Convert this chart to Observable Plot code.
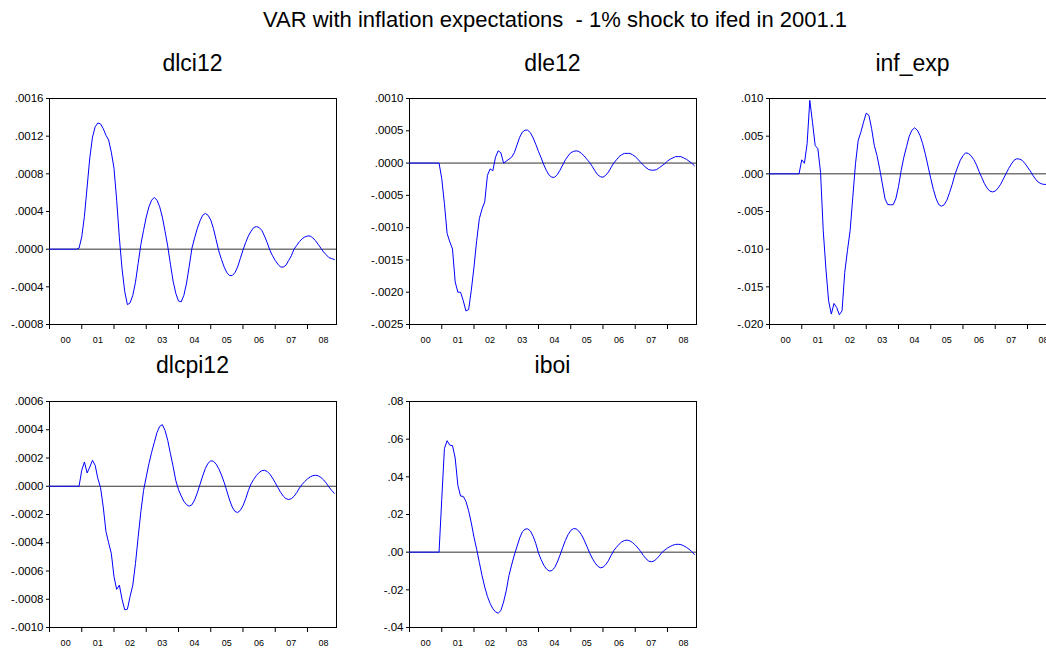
<!DOCTYPE html>
<html>
<head>
<meta charset="utf-8">
<script src="https://cdn.jsdelivr.net/npm/d3@7"></script>
<script src="https://cdn.jsdelivr.net/npm/@observablehq/plot@0.6"></script>
<style>
  html, body { margin: 0; padding: 0; background: #fff; overflow: hidden; }
  #chart {
    position: relative; width: 1046px; height: 648px; overflow: hidden;
    background: #fff; color: #000;
    font-family: "Liberation Sans", Arial, sans-serif;
  }
  .title { position: absolute; white-space: pre; transform: translateX(-50%); line-height: 1; }
  .panel { position: absolute; }
  .panel svg { max-width: none !important; display: block; }
</style>
</head>
<body>
<div id="chart"></div>
<script>
// Impulse responses, monthly from 2000.01 (index 0) to 2008.11 (index 106)
const chartTitle = "VAR with inflation expectations  - 1% shock to ifed in 2001.1";
const seriesNames = ["dlci12", "dle12", "inf_exp", "dlcpi12", "iboi"];

const yearStarts = [0, 12, 24, 36, 48, 60, 72, 84, 96];
const yearMids = [6, 18, 30, 42, 54, 66, 78, 90, 102];
const yearLabels = ["00", "01", "02", "03", "04", "05", "06", "07", "08"];

const dlci12 = [
  0, 0, 0, 0, 0, 0, 0, 0, 0, 0, 0, 0.00001,
  0.00013, 0.00035, 0.00066, 0.00097, 0.00119, 0.00130, 0.00134, 0.00133, 0.00128, 0.00121, 0.00116, 0.00103,
  0.00086, 0.00052, 0.00012, -0.00021, -0.00045, -0.00059, -0.00057, -0.00049, -0.00035, -0.00015, 0.00005, 0.00020,
  0.00034, 0.00045, 0.00052, 0.00055, 0.00052, 0.00045, 0.00034, 0.00019, 0.00003, -0.00016, -0.00034, -0.00047,
  -0.00055, -0.00056, -0.00049, -0.00036, -0.00018, 0.00001, 0.00012, 0.00022, 0.00030, 0.00036, 0.00038, 0.00036,
  0.00031, 0.00022, 0.00010, -0.00002, -0.00011, -0.00019, -0.00025, -0.00028, -0.00028, -0.00025, -0.00019, -0.00010,
  -0.00001, 0.00007, 0.00014, 0.00019, 0.00023, 0.00024, 0.00023, 0.00020, 0.00014, 0.00007, -0.00001, -0.00007,
  -0.00012, -0.00016, -0.00019, -0.00019, -0.00017, -0.00012, -0.00007, 0.00000, 0.00004, 0.00008, 0.00011, 0.00013,
  0.00014, 0.00014, 0.00012, 0.00009, 0.00005, 0.00001, -0.00003, -0.00006, -0.00009, -0.00010, -0.00011
];

const dle12 = [
  0, 0, 0, 0, 0, 0, 0, 0, 0, 0, 0, 0,
  -0.00024, -0.00063, -0.00109, -0.00122, -0.00133, -0.00184, -0.00200, -0.00200, -0.00213, -0.00229, -0.00227, -0.00197,
  -0.00161, -0.00120, -0.00086, -0.00071, -0.00060, -0.00019, -0.00009, -0.00012, 0.00009, 0.00019, 0.00016, 0.00000,
  0.00003, 0.00006, 0.00009, 0.00016, 0.00028, 0.00040, 0.00048, 0.00051, 0.00051, 0.00047, 0.00039, 0.00029,
  0.00018, 0.00008, -0.00003, -0.00012, -0.00019, -0.00022, -0.00022, -0.00018, -0.00011, -0.00003, 0.00005, 0.00011,
  0.00016, 0.00018, 0.00019, 0.00018, 0.00015, 0.00011, 0.00006, 0.00001, -0.00005, -0.00012, -0.00018, -0.00021,
  -0.00022, -0.00019, -0.00014, -0.00007, 0.00000, 0.00005, 0.00010, 0.00013, 0.00015, 0.00015, 0.00015, 0.00013,
  0.00010, 0.00006, 0.00001, -0.00003, -0.00007, -0.00010, -0.00011, -0.00011, -0.00010, -0.00007, -0.00004, -0.00001,
  0.00003, 0.00006, 0.00008, 0.00010, 0.00010, 0.00010, 0.00008, 0.00006, 0.00003, 0.00000, -0.00004
];

const infExp = [
  0, 0, 0, 0, 0, 0, 0, 0, 0, 0, 0, 0,
  0.00186, 0.0014, 0.0040, 0.00975, 0.00686, 0.00376, 0.00333, 0.0002, -0.00754, -0.01264, -0.01686, -0.01862,
  -0.01721, -0.01774, -0.01871, -0.01818, -0.01309, -0.0102, -0.00754, -0.00311, 0.00133, 0.00443, 0.00553, 0.00686,
  0.00806, 0.00775, 0.0060, 0.00376, 0.00243, 0.00066, -0.00133, -0.00333, -0.00408, -0.0041, -0.0041, -0.00333,
  -0.00169, 0.00044, 0.00221, 0.0036, 0.0050, 0.0058, 0.0061, 0.0058, 0.0051, 0.0040, 0.0026, 0.0010,
  -0.0006, -0.0021, -0.0033, -0.0041, -0.0043, -0.0041, -0.0035, -0.0025, -0.0014, -0.0001, 0.0009, 0.0018,
  0.0024, 0.0028, 0.0027, 0.0024, 0.0019, 0.0012, 0.0003, -0.0005, -0.0013, -0.0019, -0.0023, -0.0024,
  -0.0023, -0.0019, -0.0014, -0.0007, 0.0000, 0.0007, 0.0013, 0.0018, 0.0020, 0.00196, 0.0018, 0.0014,
  0.0009, 0.0004, -0.0002, -0.0007, -0.0011, -0.0013, -0.0014, -0.0014, -0.0013, -0.0010, -0.0007
];

const dlcpi12 = [
  0, 0, 0, 0, 0, 0, 0, 0, 0, 0, 0, 0,
  0.000113, 0.000172, 0.000094, 0.000136, 0.000184, 0.000148, 0.000054, -0.00001, -0.000146, -0.00032, -0.0004, -0.000475,
  -0.00064, -0.00073, -0.0007, -0.0008, -0.000875, -0.00087, -0.00078, -0.0007, -0.000546, -0.000358, -0.00018, -0.00003,
  0.000066, 0.00016, 0.00024, 0.00031, 0.00038, 0.000424, 0.000436, 0.000395, 0.000325, 0.00023, 0.00014, 0.00004,
  -0.000024, -0.000069, -0.000106, -0.000131, -0.000141, -0.000131, -0.000097, -0.000047, 0.000013, 0.000073, 0.000126, 0.000163,
  0.00018, 0.000177, 0.000157, 0.000124, 0.000079, 0.000027, -0.000034, -0.000097, -0.000147, -0.000178, -0.000186, -0.000171,
  -0.000138, -0.000089, -0.000031, 0.000017, 0.000049, 0.000076, 0.000097, 0.00011, 0.000113, 0.000105, 0.000086, 0.000058,
  0.000025, -0.00001, -0.000043, -0.00007, -0.000088, -0.000094, -0.000088, -0.000071, -0.000045, -0.000013, 0.000013, 0.000034,
  0.000052, 0.000066, 0.000075, 0.000078, 0.000074, 0.000062, 0.000045, 0.000022, -0.000005, -0.00003, -0.00005
];

const iboi = [
  0, 0, 0, 0, 0, 0, 0, 0, 0, 0, 0, 0,
  0.028, 0.055, 0.0592, 0.0568, 0.0566, 0.050, 0.0355, 0.0298, 0.0296, 0.027, 0.022, 0.0155,
  0.008, 0.0015, -0.0055, -0.0125, -0.0185, -0.0235, -0.0272, -0.0300, -0.0317, -0.0324, -0.0310, -0.0265,
  -0.0205, -0.0125, -0.0068, -0.0015, 0.003, 0.0075, 0.0108, 0.0122, 0.0124, 0.0112, 0.0085, 0.0046,
  -0.0005, -0.0040, -0.007, -0.009, -0.010, -0.0098, -0.0082, -0.0053, -0.0016, 0.0024, 0.0062, 0.0093,
  0.0115, 0.0125, 0.0124, 0.0112, 0.0092, 0.0064, 0.0031, -0.0003, -0.0032, -0.0056, -0.0074, -0.0083,
  -0.008, -0.0067, -0.0046, -0.0018, 0.0008, 0.0026, 0.0042, 0.0055, 0.0062, 0.0064, 0.006, 0.0051,
  0.0038, 0.0022, 0.0004, -0.0017, -0.0035, -0.0047, -0.0051, -0.0047, -0.0035, -0.0019, 0.0, 0.0011,
  0.0022, 0.003, 0.0037, 0.0041, 0.0042, 0.004, 0.0034, 0.0026, 0.0016, 0.0004, -0.0012
];

// y-axis tick values for each panel
const dlci12Ticks = [-0.0008, -0.0004, 0, 0.0004, 0.0008, 0.0012, 0.0016];
const dle12Ticks = [-0.0025, -0.002, -0.0015, -0.001, -0.0005, 0, 0.0005, 0.001];
const infExpTicks = [-0.02, -0.015, -0.01, -0.005, 0, 0.005, 0.01];
const dlcpi12Ticks = [-0.001, -0.0008, -0.0006, -0.0004, -0.0002, 0, 0.0002, 0.0004, 0.0006];
const iboiTicks = [-0.04, -0.02, 0, 0.02, 0.04, 0.06, 0.08];

// Panel grid: 3 columns x 2 rows
const panels = [
  {name: seriesNames[0], values: dlci12, ticks: dlci12Ticks, decimals: 4, col: 0, row: 0},
  {name: seriesNames[1], values: dle12, ticks: dle12Ticks, decimals: 4, col: 1, row: 0},
  {name: seriesNames[2], values: infExp, ticks: infExpTicks, decimals: 3, col: 2, row: 0},
  {name: seriesNames[3], values: dlcpi12, ticks: dlcpi12Ticks, decimals: 4, col: 0, row: 1},
  {name: seriesNames[4], values: iboi, ticks: iboiTicks, decimals: 2, col: 1, row: 1}
];

const colLeft = [49, 409, 769];     // left edge of each plot frame
const rowTop = [98, 401];           // top edge of each plot frame
const rowTitleBaseline = [71, 373.5];
const frameW = 287, frameH = 226;
const mL = 50, mR = 6, mT = 6, mB = 26;
const xDomain = [0, 106.8];

const chart = document.getElementById("chart");

const title = document.createElement("div");
title.className = "title";
title.textContent = chartTitle;
title.style.fontSize = "22px";
title.style.left = "555px";
title.style.top = (28 - 18.6) + "px";
chart.appendChild(title);

const fmtTick = (dec) => (v) => v.toFixed(dec).replace("0.", ".");

for (const p of panels) {
  const rows = p.values.map((v, i) => ({month: i, value: v}));
  const left = colLeft[p.col], top = rowTop[p.row];

  const head = document.createElement("div");
  head.className = "title";
  head.textContent = p.name;
  head.style.fontSize = "23px";
  head.style.left = (left + frameW / 2) + "px";
  head.style.top = (rowTitleBaseline[p.row] - 19.5) + "px";
  chart.appendChild(head);

  const w = mL + frameW + mR, h = mT + frameH + mB;
  const svg = Plot.plot({
    width: w,
    height: h,
    marginLeft: mL, marginRight: mR, marginTop: mT, marginBottom: mB,
    style: {background: "transparent", color: "#000", fontFamily: "'Liberation Sans', Arial, sans-serif", fontSize: "11px", overflow: "visible", maxWidth: "none"},
    x: {domain: xDomain, label: null},
    y: {domain: [p.ticks[0], p.ticks[p.ticks.length - 1]], label: null},
    marks: [
      Plot.frame({stroke: "#000"}),
      Plot.ruleY([0], {stroke: "#333"}),
      Plot.axisY({ticks: p.ticks, tickSize: 3, tickPadding: 3, tickFormat: fmtTick(p.decimals), fontSize: 11.5, label: null}),
      Plot.axisX({ticks: yearStarts, tickSize: 5, tickFormat: () => "", label: null}),
      Plot.axisX({ticks: yearMids, tickSize: 0, tickPadding: 12, tickFormat: (d) => yearLabels[yearMids.indexOf(d)], fontSize: 9, label: null}),
      Plot.line(rows, {x: "month", y: "value", stroke: "#0000ff", strokeWidth: 1})
    ]
  });
  const holder = document.createElement("div");
  holder.className = "panel";
  holder.style.left = (left - mL) + "px";
  holder.style.top = (top - mT) + "px";
  holder.style.width = w + "px";
  holder.style.height = h + "px";
  holder.appendChild(svg);
  chart.appendChild(holder);
}
</script>
</body>
</html>
